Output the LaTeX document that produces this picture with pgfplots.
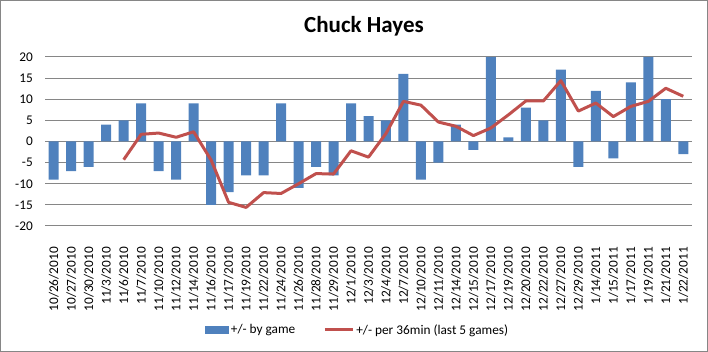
\documentclass[border=0pt]{standalone}
\usepackage{pgfplots}
\pgfplotsset{compat=1.18}
\usepackage{fontspec}
\setmainfont{Carlito}
\definecolor{barblue}{HTML}{4F81BD}
\definecolor{linered}{HTML}{C0504D}
\definecolor{gridgray}{HTML}{868686}
\begin{document}
\begin{tikzpicture}[x=1pt,y=1pt]
\draw[gridgray, line width=1pt] (0.5,0.5) rectangle (707.5,351.5);
\node[font=\fontsize{23}{26}\selectfont\bfseries] at (364,326) {Chuck Hayes};
\begin{axis}[
  at={(45pt,126pt)}, anchor=south west,
  scale only axis, width=647pt, height=169pt,
  xmin=-0.5, xmax=36.5, ymin=-20, ymax=20,
  ytick={-20,-15,...,20},
  xtick={0,...,36},
  xticklabels={10/26/2010,10/27/2010,10/30/2010,11/3/2010,11/6/2010,11/7/2010,11/10/2010,11/12/2010,11/14/2010,11/16/2010,11/17/2010,11/19/2010,11/22/2010,11/24/2010,11/26/2010,11/28/2010,11/29/2010,12/1/2010,12/3/2010,12/4/2010,12/7/2010,12/10/2010,12/11/2010,12/14/2010,12/15/2010,12/17/2010,12/19/2010,12/20/2010,12/22/2010,12/27/2010,12/29/2010,1/14/2011,1/15/2011,1/17/2011,1/19/2011,1/21/2011,1/22/2011},
  x tick label style={rotate=90, anchor=east, font=\fontsize{13.3}{15}\selectfont, inner sep=0pt},
  xticklabel shift=21pt,
  y tick label style={font=\fontsize{13.3}{15}\selectfont, inner sep=0pt},
  yticklabel shift=12pt,
  /pgf/number format/assume math mode=true,
  major tick length=0pt,
  axis line style={draw=none},
  ymajorgrids, grid style={gridgray, line width=1pt},
  legend columns=2,
  legend style={at={(0.483,-0.615)}, anchor=center, draw=none, font=\fontsize{13.3}{15}\selectfont,
    /tikz/every even column/.append style={column sep=26pt}},
  legend cell align=left,
  legend image code/.code={},
]
\addplot[ybar, bar width=10pt, fill=barblue, draw=none, area legend,
  legend image code/.code={\fill[barblue] (0pt,-4pt) rectangle (24pt,4pt);}] coordinates {
(0,-9)(1,-7)(2,-6)(3,4)(4,5)(5,9)(6,-7)(7,-9)(8,9)(9,-15)(10,-12)(11,-8)(12,-8)(13,9)(14,-11)(15,-6)(16,-8)(17,9)(18,6)(19,5)(20,16)(21,-9)(22,-5)(23,4)(24,-2)(25,20)(26,1)(27,8)(28,5)(29,17)(30,-6)(31,12)(32,-4)(33,14)(34,20)(35,10)(36,-3)};
\addlegendentry{+/- by game}
\addplot[linered, line width=3pt, line join=round, mark=none,
  legend image code/.code={\draw[linered, line width=3pt] (0pt,0pt) -- (28pt,0pt);}] coordinates {
(4,-4.3)(5,1.7)(6,2.0)(7,1.0)(8,2.3)(9,-4.4)(10,-14.4)(11,-15.6)(12,-12.1)(13,-12.3)(14,-10.0)(15,-7.6)(16,-7.7)(17,-2.2)(18,-3.7)(19,1.9)(20,9.5)(21,8.6)(22,4.6)(23,3.6)(24,1.4)(25,3.2)(26,6.3)(27,9.6)(28,9.6)(29,14.4)(30,7.2)(31,9.1)(32,5.9)(33,8.3)(34,9.5)(35,12.6)(36,10.7)};
\addlegendentry{+/- per 36min (last  5 games)}
\end{axis}
\end{tikzpicture}
\end{document}
